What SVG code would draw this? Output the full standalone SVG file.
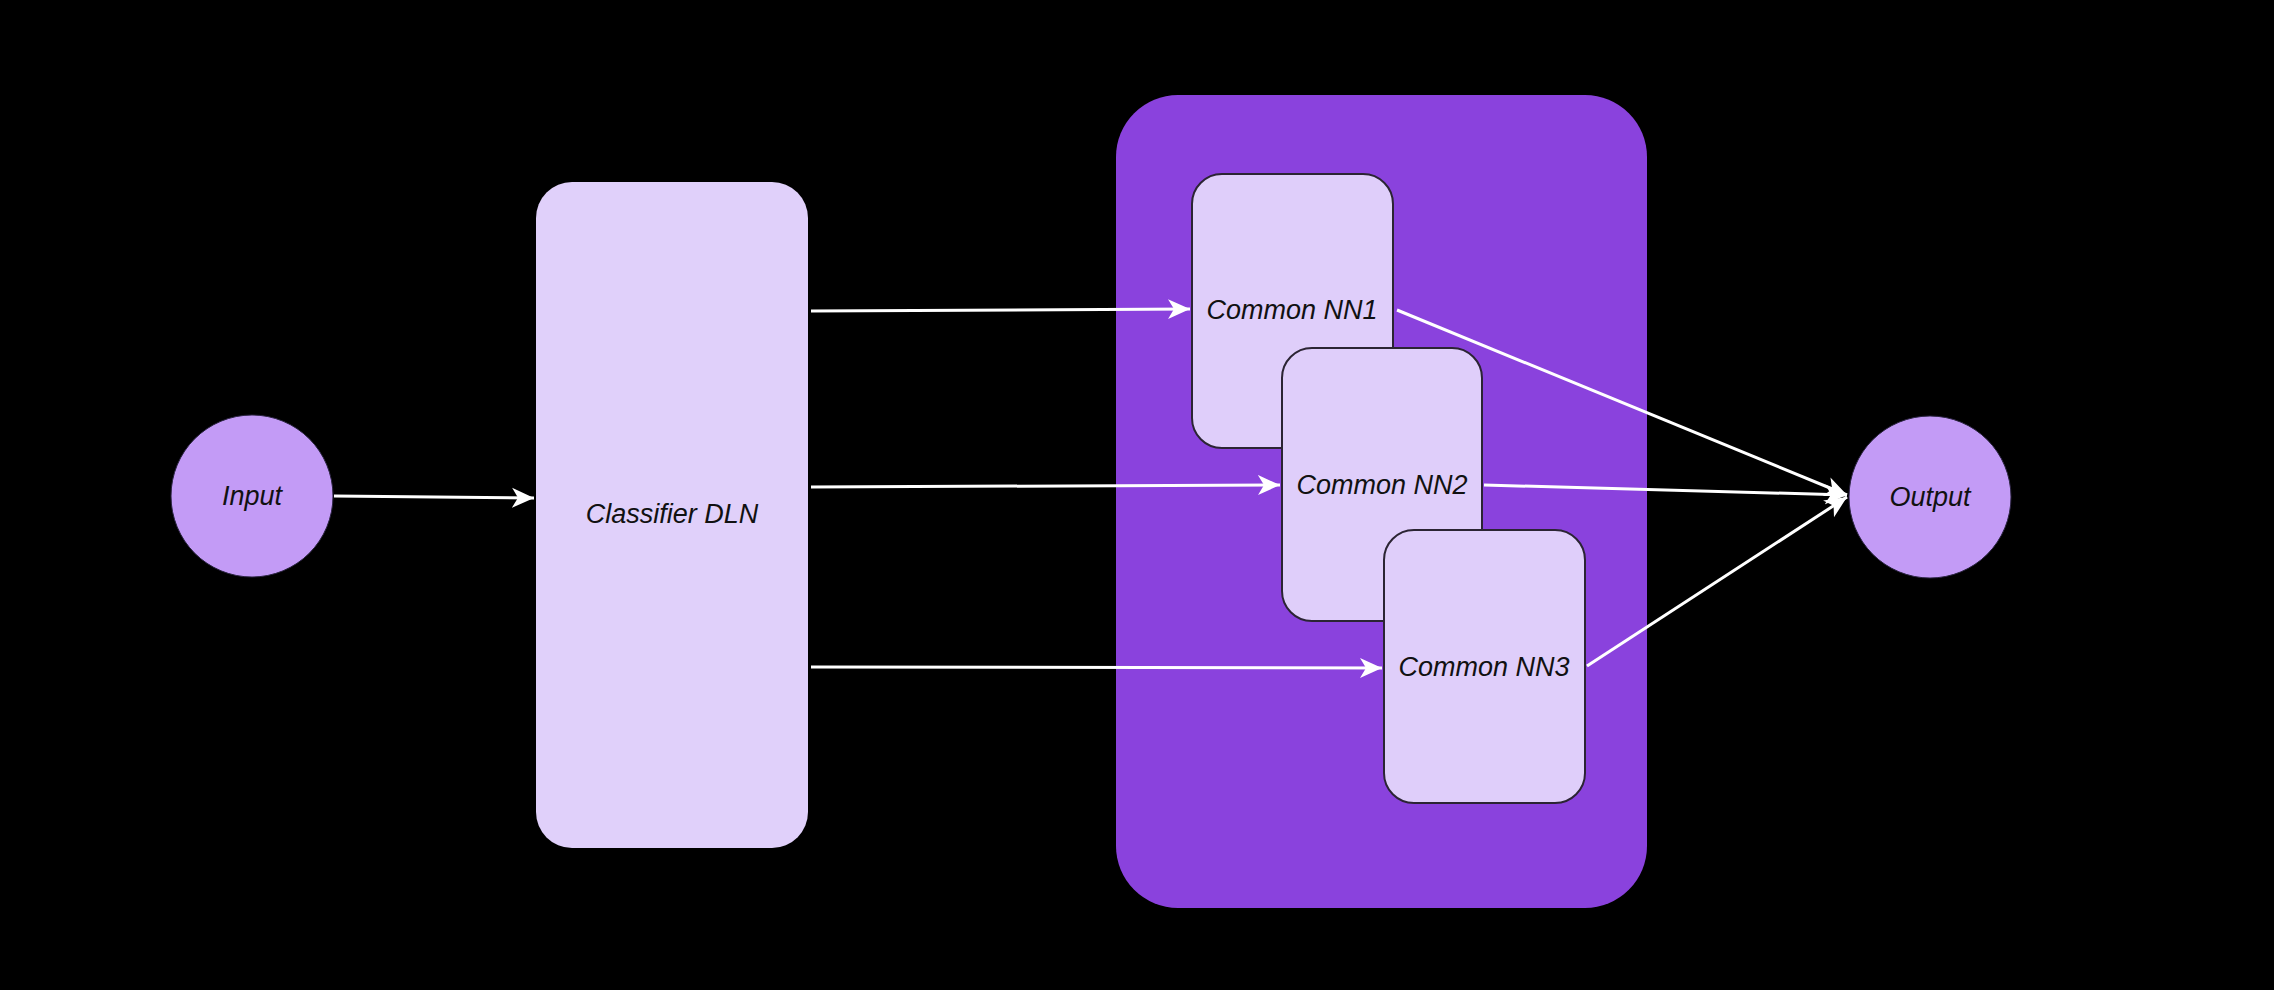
<svg xmlns="http://www.w3.org/2000/svg" width="2274" height="990" viewBox="0 0 2274 990">
<style>
.circle{fill:#C39BF6;stroke:#2a2340;stroke-width:1}
.nn{fill:#DFCEFA;stroke:#2b2433;stroke-width:2}
.lbl{font-family:"Liberation Sans",Arial,sans-serif;font-style:italic;font-size:27px;fill:#111;text-anchor:middle;dominant-baseline:central}
.edge{fill:none;stroke:#ffffff;stroke-width:3}
</style>
<defs>
<marker id="arr" markerUnits="userSpaceOnUse" markerWidth="24" markerHeight="24" refX="22" refY="11" orient="auto" viewBox="0 0 24 24">
<path d="M0,1 L22,11 L0,21 L6,11 Z" fill="#ffffff"/>
</marker>
</defs>
<rect width="2274" height="990" fill="#000000"/>
<g id="container">
<rect x="1116" y="95" width="531" height="813" rx="62" ry="62" fill="#8A42DD"/>
</g>
<g id="nn1">
<rect class="nn" x="1192" y="174" width="201" height="274" rx="30" ry="30"/>
<text class="lbl" x="1292" y="310">Common NN1</text>
</g>
<g id="nn2">
<rect class="nn" x="1282" y="348" width="200" height="273" rx="30" ry="30"/>
<text class="lbl" x="1382" y="485">Common NN2</text>
</g>
<g id="nn3">
<rect class="nn" x="1384" y="530" width="201" height="273" rx="30" ry="30"/>
<text class="lbl" x="1484" y="667">Common NN3</text>
</g>
<g id="classifier">
<rect x="536" y="182" width="272" height="666" rx="36" ry="36" fill="#E0D0FA"/>
<text class="lbl" x="672" y="514">Classifier DLN</text>
</g>
<g id="input">
<circle class="circle" cx="252" cy="496" r="81"/>
<text class="lbl" x="252" y="496">Input</text>
</g>
<g id="output">
<circle class="circle" cx="1930" cy="497" r="81"/>
<text class="lbl" x="1930" y="497">Output</text>
</g>
<g id="connectors">
<path class="edge" marker-end="url(#arr)" d="M334,496 L534,498"/>
<path class="edge" marker-end="url(#arr)" d="M811,311 L1190,309"/>
<path class="edge" marker-end="url(#arr)" d="M811,487 L1280,485"/>
<path class="edge" marker-end="url(#arr)" d="M811,667 L1382,668"/>
<path class="edge" marker-end="url(#arr)" d="M1397,310 L1847,495"/>
<path class="edge" marker-end="url(#arr)" d="M1484,485 L1847,495"/>
<path class="edge" marker-end="url(#arr)" d="M1587,666 L1847,497"/>
</g>
</svg>
